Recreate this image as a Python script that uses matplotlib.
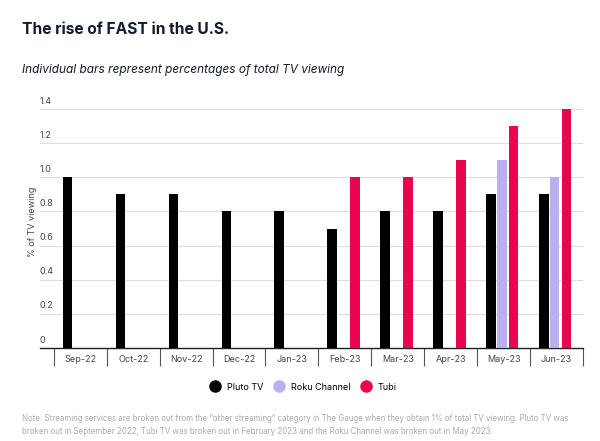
import numpy as np
import matplotlib.pyplot as plt
from matplotlib.lines import Line2D

plt.rcParams['font.family'] = ['Inter', 'DejaVu Sans']

months = ['Sep-22', 'Oct-22', 'Nov-22', 'Dec-22', 'Jan-23',
          'Feb-23', 'Mar-23', 'Apr-23', 'May-23', 'Jun-23']
pluto = [1.0, 0.9, 0.9, 0.8, 0.8, 0.7, 0.8, 0.8, 0.9, 0.9]
roku = [np.nan] * 8 + [1.1, 1.0]
tubi = [np.nan] * 5 + [1.0, 1.0, 1.1, 1.3, 1.4]
yticks = [0, 0.2, 0.4, 0.6, 0.8, 1.0, 1.2, 1.4]
ytick_labels = ['0', '0.2', '0.4', '0.6', '0.8', '1.0', '1.2', '1.4']

c_pluto = '#000000'
c_roku = '#b8b0f0'
c_tubi = '#e8074f'

fig = plt.figure(figsize=(6, 4.41), dpi=100)
ax = fig.add_axes([40/600, 1-348/441, 543/600, (348-109)/441])

x = np.arange(len(months))
w = 0.18
ax.bar(x - 0.24, pluto, w, color=c_pluto, zorder=3)
ax.bar(x - 0.035, roku, w, color=c_roku, zorder=3)
ax.bar(x + 0.19, tubi, w, color=c_tubi, zorder=3)

ax.set_xlim(-0.76, len(months) - 0.5)
ax.set_ylim(0, 1.4)

for s in ['top', 'right', 'left']:
    ax.spines[s].set_visible(False)
ax.spines['bottom'].set_color('#222222')
ax.spines['bottom'].set_linewidth(1.0)

ax.set_yticks(yticks)
ax.set_yticklabels([])
ax.tick_params(axis='y', length=0, pad=0)
ax.grid(axis='y', color='#dddddd', linewidth=0.8, zorder=0)
for v, lab in zip(yticks, ytick_labels):
    ax.text(0.0, v + 0.02, lab, transform=ax.get_yaxis_transform(),
            ha='left', va='bottom', fontsize=6.5, color='#444444')

ax.set_xticks(x)
ax.set_xticklabels(months, fontsize=6.5, color='#444444')
ax.tick_params(axis='x', which='major', length=0, pad=5)
ax.set_xticks(np.arange(len(months) + 1) - 0.5, minor=True)
ax.tick_params(axis='x', which='minor', length=13, width=0.8, color='#555555')

ax.set_ylabel('% of TV viewing', fontsize=6.5, color='#444444')
ax.yaxis.set_label_coords(-0.005, 0.53)

fig.text(22/600, 1-30/441, 'The rise of FAST in the U.S.', fontsize=11.2,
         fontweight='bold', color='#111a2c', va='center')
fig.text(22/600, 1-70/441, 'Individual bars represent percentages of total TV viewing',
         fontsize=8.5, style='italic', color='#111a2c', va='center')

handles = [Line2D([], [], marker='o', linestyle='', markersize=8, color=c)
           for c in (c_pluto, c_roku, c_tubi)]
fig.legend(handles, ['Pluto TV', 'Roku Channel', 'Tubi'], loc='center',
           bbox_to_anchor=(0.505, 1-387/441), ncol=3, frameon=False,
           fontsize=6.5, handletextpad=0.7, columnspacing=1.15, handlelength=1.2)

note = ('Note: Streaming services are broken out from the \u201cother streaming\u201d category in The Gauge '
        'when they obtain 1% of total TV viewing. Pluto TV was\n'
        'broken out in September 2022, Tubi TV was broken out in February 2023 and the Roku Channel '
        'was broken out in May 2023.')
fig.text(22/600, 1-425/441, note, fontsize=5.7, color='#aaaaaa', va='center',
         linespacing=1.7)

fig.savefig('out.png', dpi=100)
